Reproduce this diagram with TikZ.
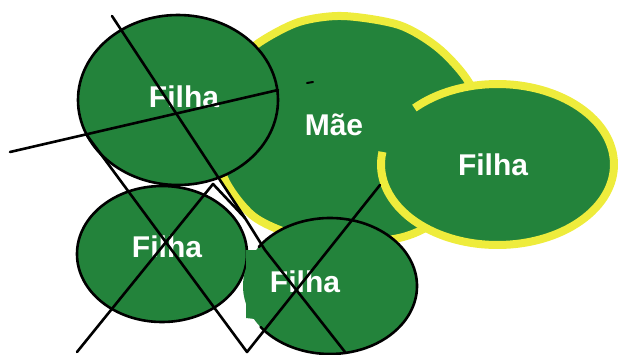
\documentclass[tikz,border=0pt]{standalone}
\usepackage{fontspec}
\setmainfont{Liberation Sans}
\definecolor{leafgreen}{RGB}{35,131,59}
\definecolor{rimyellow}{RGB}{238,236,60}
\begin{document}
\begin{tikzpicture}[x=1pt,y=-1pt,
  lbl/.style={text=white, font=\fontsize{30}{32}\selectfont\bfseries, anchor=base, inner sep=0pt},
  pen/.style={draw=black, line width=2.6pt, line cap=round, line join=round},
  rim/.style={draw=rimyellow, line width=8pt}]
\useasboundingbox (0,0) rectangle (622,354);

% mother
\filldraw[fill=leafgreen, rim] plot[smooth cycle] coordinates {
 (343,16) (399,25) (437,47) (466,78) (484,116) (481,159) (461,197) (432,224)
 (399,238) (340,244) (291,234) (253,216) (226,182) (214,140) (219,96) (236,64)
 (260,42) (299,22)};

% right daughter
\coordinate (rc) at (497.5,164.5);
\fill[leafgreen] (rc) ellipse[x radius=116.5, y radius=80.5];
\draw[rim] (rc) ++(224.5:116.5 and 80.5) arc[start angle=224.5, end angle=549, x radius=116.5, y radius=80.5];

% top-left daughter
\coordinate (tlc) at (178,100);
\filldraw[fill=leafgreen, pen] (tlc) ellipse[x radius=100, y radius=85];

% bottom-left daughter
\coordinate (blc) at (162,254);
\filldraw[fill=leafgreen, pen] (blc) ellipse[x radius=85, y radius=68];

% green patch
\fill[leafgreen] (246,250) -- (246,318) -- (255,319) -- (262,326) -- (290,300) -- (290,250) -- cycle;

% bottom-right daughter
\coordinate (brc) at (330,286);
\fill[leafgreen] (brc) ellipse[x radius=87, y radius=68];
\draw[pen] (brc) ++(215:87 and 68) arc[start angle=215, end angle=503, x radius=87, y radius=68];

% labels
\node[lbl] (tl) at (184,107) {Filha};
\node[lbl] (mae) at (334,135) {Mãe};
\node[lbl] (rf) at (493,175) {Filha};
\node[lbl] (bl) at (167,257) {Filha};
\node[lbl] (br) at (305,292) {Filha};

% crossing lines
\coordinate (b1) at (10,152);
\coordinate (b2) at (278,90);
\coordinate (a1) at (112,16);
\coordinate (a2) at (245,218);
\coordinate (a3) at (265,250);
\coordinate (a4) at (345,352);
\coordinate (c1) at (86,134);
\coordinate (v) at (247,352);
\coordinate (c3) at (380,185);
\coordinate (d1) at (77,352);
\coordinate (d2) at (213,184);
\coordinate (d3) at (245,218);
\coordinate (m1) at (307,83);
\coordinate (m2) at (313,82);
\draw[pen] (b1) -- (b2);
\draw[pen] (a1) -- (a2) -- (a3) -- (a4);
\draw[pen] (c1) -- (v) -- (c3);
\draw[pen] (d1) -- (d2) -- (d3);
\draw[pen, line width=2pt] (m1) -- (m2);
\end{tikzpicture}
\end{document}
